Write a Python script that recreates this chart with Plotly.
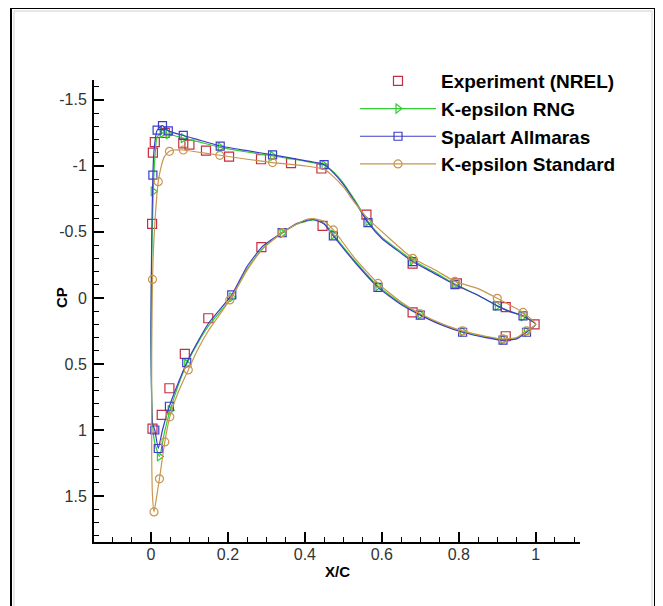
import plotly.graph_objects as go

# ---------------- data ----------------
# Experiment (NREL)
exp_x = [0.003, 0.005, 0.010, 0.036, 0.084, 0.100, 0.143, 0.203, 0.286, 0.364, 0.443,
         0.560, 0.680, 0.795, 0.922, 0.997,
         0.922, 0.680, 0.446, 0.287, 0.149, 0.088, 0.048, 0.028, 0.004]
exp_cp = [-0.56, -1.10, -1.18, -1.25, -1.17, -1.16, -1.116, -1.07, -1.05, -1.02, -0.98,
          -0.63, -0.26, -0.11, 0.07, 0.20,
          0.29, 0.11, -0.545, -0.384, 0.154, 0.424, 0.684, 0.886, 0.99]

# Spalart Allmaras (line: upper TE -> LE, then lower LE -> TE)
sa_x = [1.0, 0.967, 0.93, 0.90, 0.85, 0.79, 0.74, 0.68, 0.64, 0.60, 0.564, 0.53, 0.50, 0.47, 0.45,
        0.40, 0.316, 0.25, 0.18, 0.12, 0.084, 0.06, 0.045, 0.03, 0.016, 0.008, 0.005, 0.002, 0.0,
        0.001, 0.004, 0.01, 0.019, 0.03, 0.048, 0.07, 0.093, 0.12, 0.15, 0.21, 0.25, 0.29, 0.341,
        0.38, 0.421, 0.45, 0.474, 0.53, 0.59, 0.65, 0.70, 0.76, 0.81, 0.87, 0.915, 0.95, 0.976, 1.0]
sa_cp = [0.20, 0.136, 0.10, 0.06, -0.02, -0.10, -0.18, -0.275, -0.36, -0.45, -0.57, -0.73, -0.86, -0.96, -1.01,
         -1.04, -1.083, -1.115, -1.15, -1.20, -1.23, -1.25, -1.265, -1.305, -1.27, -1.12, -0.93, -0.45, 0.2,
         0.6, 0.95, 1.0, 1.14, 1.0, 0.82, 0.65, 0.49, 0.34, 0.19, -0.023, -0.24, -0.39, -0.495,
         -0.565, -0.595, -0.56, -0.47, -0.27, -0.08, 0.05, 0.13, 0.21, 0.26, 0.30, 0.32, 0.31, 0.26, 0.20]
sa_mx = [0.967, 0.90, 0.79, 0.68, 0.564, 0.45, 0.316, 0.18, 0.084, 0.045, 0.03, 0.016, 0.005,
         0.01, 0.019, 0.048, 0.093, 0.21, 0.341, 0.474, 0.59, 0.70, 0.81, 0.915, 0.976]
sa_mcp = [0.136, 0.06, -0.10, -0.275, -0.57, -1.01, -1.083, -1.15, -1.23, -1.265, -1.305, -1.27, -0.93,
          1.0, 1.14, 0.82, 0.49, -0.023, -0.495, -0.47, -0.08, 0.13, 0.26, 0.32, 0.26]

# K-epsilon RNG
rng_x = [1.0, 0.967, 0.93, 0.90, 0.85, 0.79, 0.74, 0.68, 0.64, 0.60, 0.564, 0.53, 0.50, 0.47, 0.45,
         0.40, 0.316, 0.25, 0.18, 0.12, 0.084, 0.06, 0.045, 0.03, 0.016, 0.010, 0.006, 0.002, 0.0,
         0.001, 0.004, 0.01, 0.022, 0.035, 0.05, 0.07, 0.093, 0.12, 0.15, 0.21, 0.25, 0.29, 0.341,
         0.38, 0.421, 0.45, 0.474, 0.53, 0.59, 0.65, 0.70, 0.76, 0.81, 0.87, 0.915, 0.95, 0.976, 1.0]
rng_cp = [0.20, 0.14, 0.10, 0.06, -0.02, -0.105, -0.19, -0.285, -0.37, -0.46, -0.58, -0.74, -0.87, -0.965, -1.005,
          -1.035, -1.075, -1.105, -1.14, -1.185, -1.21, -1.23, -1.24, -1.25, -1.22, -1.05, -0.806, -0.3, 0.3,
          0.6, 0.95, 1.1, 1.2, 1.02, 0.85, 0.67, 0.50, 0.35, 0.21, -0.005, -0.22, -0.375, -0.49,
          -0.56, -0.59, -0.565, -0.48, -0.28, -0.09, 0.04, 0.125, 0.205, 0.255, 0.295, 0.315, 0.305, 0.255, 0.20]
rng_mx = [0.967, 0.90, 0.79, 0.68, 0.564, 0.45, 0.316, 0.18, 0.084, 0.045, 0.03, 0.006,
          0.022, 0.05, 0.093, 0.21, 0.341, 0.474, 0.59, 0.70, 0.81, 0.915, 0.976]
rng_mcp = [0.14, 0.06, -0.105, -0.285, -0.58, -1.005, -1.075, -1.14, -1.21, -1.24, -1.25, -0.806,
           1.2, 0.85, 0.50, -0.005, -0.49, -0.48, -0.09, 0.125, 0.255, 0.315, 0.255]

# K-epsilon Standard
std_x = [1.0, 0.967, 0.93, 0.90, 0.85, 0.79, 0.74, 0.68, 0.62, 0.564, 0.53, 0.50, 0.47, 0.45,
         0.40, 0.316, 0.25, 0.179, 0.12, 0.084, 0.06, 0.048, 0.035, 0.027, 0.019, 0.012, 0.007, 0.004,
         0.002, 0.002, 0.004, 0.008,
         0.015, 0.022, 0.036, 0.049, 0.07, 0.097, 0.12, 0.15, 0.205, 0.25, 0.29, 0.341, 0.40, 0.421,
         0.45, 0.474, 0.53, 0.59, 0.65, 0.70, 0.76, 0.81, 0.87, 0.915, 0.95, 0.976, 1.0]
std_cp = [0.20, 0.11, 0.05, 0.003, -0.07, -0.125, -0.21, -0.30, -0.45, -0.60, -0.72, -0.84, -0.93, -0.975,
          -1.0, -1.025, -1.05, -1.08, -1.105, -1.12, -1.12, -1.11, -1.07, -1.0, -0.88, -0.65, -0.40, -0.14,
          0.4, 1.2, 1.5, 1.62,
          1.5, 1.37, 1.09, 0.90, 0.72, 0.545, 0.40, 0.245, 0.015, -0.21, -0.37, -0.495, -0.59, -0.60,
          -0.58, -0.515, -0.30, -0.11, 0.03, 0.12, 0.20, 0.25, 0.29, 0.31, 0.30, 0.25, 0.20]
std_mx = [0.967, 0.90, 0.79, 0.68, 0.316, 0.179, 0.084, 0.048, 0.019, 0.004,
          0.008, 0.022, 0.036, 0.049, 0.097, 0.205, 0.341, 0.474, 0.59, 0.70, 0.81, 0.915, 0.976]
std_mcp = [0.11, 0.003, -0.125, -0.30, -1.025, -1.08, -1.12, -1.11, -0.88, -0.14,
           1.62, 1.37, 1.09, 0.90, 0.545, 0.015, -0.495, -0.515, -0.11, 0.12, 0.25, 0.31, 0.25]

x_ticks = [0, 0.2, 0.4, 0.6, 0.8, 1]
x_ticklabels = ["0", "0.2", "0.4", "0.6", "0.8", "1"]
y_ticks = [-1.5, -1, -0.5, 0, 0.5, 1, 1.5]
y_ticklabels = ["-1.5", "-1", "-0.5", "0", "0.5", "1", "1.5"]

# ---------------- styles ----------------
C_EXP = "#c62d42"
C_RNG = "#33cc33"
C_SA = "#3c3cc8"
C_STD = "#c8964f"
FONT = "Liberation Sans, Arial, sans-serif"

fig = go.Figure()

models = [
    ("K-epsilon RNG", rng_x, rng_cp, rng_mx, rng_mcp, C_RNG, "triangle-right-open"),
    ("Spalart Allmaras", sa_x, sa_cp, sa_mx, sa_mcp, C_SA, "square-open"),
    ("K-epsilon Standard", std_x, std_cp, std_mx, std_mcp, C_STD, "circle-open"),
]

fig.add_trace(go.Scatter(x=exp_x, y=exp_cp, mode="markers", name="Experiment (NREL)",
                         marker=dict(symbol="square-open", size=9, color=C_EXP, line=dict(width=1.2))))

for name, lx, lcp, mx, mcp, col, sym in models:
    fig.add_trace(go.Scatter(x=lx, y=lcp, mode="lines", showlegend=False,
                             line=dict(color=col, width=1.2, shape="spline", smoothing=0.5)))
    fig.add_trace(go.Scatter(x=mx, y=mcp, mode="markers", showlegend=False,
                             marker=dict(symbol=sym, size=8, color=col, line=dict(width=1.2))))
    fig.add_trace(go.Scatter(x=[None], y=[None], mode="lines+markers", name=name,
                             line=dict(color=col, width=1.2),
                             marker=dict(symbol=sym, size=8, color=col, line=dict(width=1.2))))

# page body has an 8px margin; figure sized so it fits the window
OFF = 8
W, H = 663 - OFF, 606 - OFF
ML, MT = 94 - OFF, 80 - OFF
pw, ph = 486, 462
MR, MB = W - ML - pw, H - MT - ph

def px(xp):
    return (xp - OFF - ML) / pw

def py(yp):
    return (MT + ph - (yp - OFF)) / ph

axis_font = dict(family=FONT, size=16, color="#333")

fig.update_layout(
    width=W, height=H,
    margin=dict(l=ML, r=MR, t=MT, b=MB),
    paper_bgcolor="white", plot_bgcolor="white",
    showlegend=True,
    legend=dict(x=px(355), y=py(62), xanchor="left", yanchor="top",
                bgcolor="rgba(0,0,0,0)", itemwidth=76, tracegroupgap=0,
                font=dict(family=FONT, size=19, color="black", weight="bold")),
    xaxis=dict(range=[-0.148, 1.115], tickvals=x_ticks, ticktext=x_ticklabels,
               showgrid=False, zeroline=False, showline=True, linecolor="black", linewidth=2,
               ticks="inside", ticklen=10, tickwidth=1.5, tickcolor="black", tickfont=axis_font,
               ticklabelstandoff=-3,
               minor=dict(dtick=0.05, tick0=0, ticks="inside", ticklen=5, tickwidth=1, tickcolor="black"),
               mirror=False),
    yaxis=dict(range=[1.848, -1.65], tickvals=y_ticks, ticktext=y_ticklabels,
               showgrid=False, zeroline=False, showline=True, linecolor="black", linewidth=2,
               ticks="inside", ticklen=10, tickwidth=1.5, tickcolor="black", tickfont=axis_font,
               ticklabelstandoff=2,
               minor=dict(dtick=0.1, tick0=0, ticks="inside", ticklen=5, tickwidth=1, tickcolor="black"),
               mirror=False),
    annotations=[
        dict(text="<b>X/C</b>", xref="paper", yref="paper", x=px(337), y=py(571),
             xanchor="center", yanchor="middle",
             showarrow=False, font=dict(family=FONT, size=15, color="black")),
        dict(text="<b>CP</b>", xref="paper", yref="paper", x=px(61), y=py(298), textangle=-90,
             xanchor="center", yanchor="middle",
             showarrow=False, font=dict(family=FONT, size=15, color="black")),
    ],
    shapes=[
        dict(type="rect", xref="paper", yref="paper", x0=px(11), x1=px(655), y0=py(630), y1=py(8),
             line=dict(color="black", width=2), layer="below"),
        dict(type="rect", xref="paper", yref="paper", x0=px(14), x1=px(652), y0=py(630), y1=py(11),
             line=dict(color="#d0d0d0", width=1), layer="below"),
    ],
)

fig.write_html("out.html")
